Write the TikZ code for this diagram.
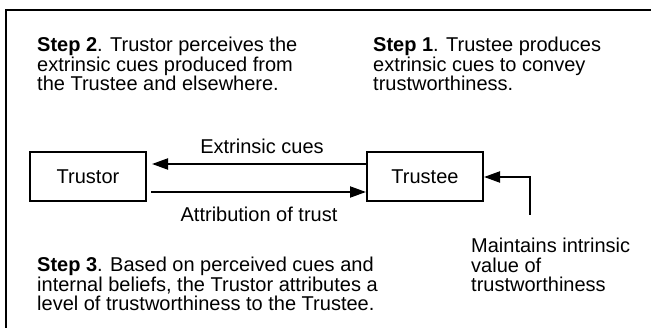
\documentclass[tikz,border=0pt]{standalone}
\usepackage{fontspec}
\setmainfont{Liberation Sans}
\usetikzlibrary{arrows.meta}
\begin{document}
\begin{tikzpicture}[x=1pt,y=-1pt,
  txt/.style={inner sep=0pt,anchor=north west,align=left,font=\fontsize{20}{19.5}\selectfont},
  lbl/.style={inner sep=0pt,font=\fontsize{20}{19.5}\selectfont},
  actor/.style={draw,line width=2pt,minimum width=116pt,minimum height=49pt,inner sep=0pt,font=\fontsize{20}{24}\selectfont},
  conn/.style={line width=2pt,-{Triangle[length=16pt,width=11pt]}}]
\useasboundingbox (0,0) rectangle (651,328);
\begin{scope}
\clip (0,0) rectangle (651,328);
\draw[line width=2.5pt] (6,10) rectangle (760,420);
\end{scope}
\node[txt] (s2) at (37,37) {\textbf{Step 2}. Trustor perceives the\\extrinsic cues produced from\\the Trustee and elsewhere.};
\node[txt] (s1) at (373,37) {\textbf{Step 1}. Trustee produces\\extrinsic cues to convey\\trustworthiness.};
\node[actor] (tor) at (88,177) {Trustor};
\node[actor] (tee) at (425,177) {Trustee};
\coordinate (m) at (530,215);
\draw[conn] (tee.west |- 0,164) -- (152,164) coordinate (ta);
\draw[conn] (151,192) coordinate (tb) -- (tee.west |- 0,192);
\draw[conn] (m) |- (tee.east);
\node[lbl] (ec) at (262,146) {Extrinsic cues};
\node[lbl] (at) at (259,214) {Attribution of trust};
\node[txt] (s3) at (37,257) {\textbf{Step 3}. Based on perceived cues and\\internal beliefs, the Trustor attributes a\\level of trustworthiness to the Trustee.};
\node[txt] (mi) at (471,238) {Maintains intrinsic\\value of\\trustworthiness};
\end{tikzpicture}
\end{document}
